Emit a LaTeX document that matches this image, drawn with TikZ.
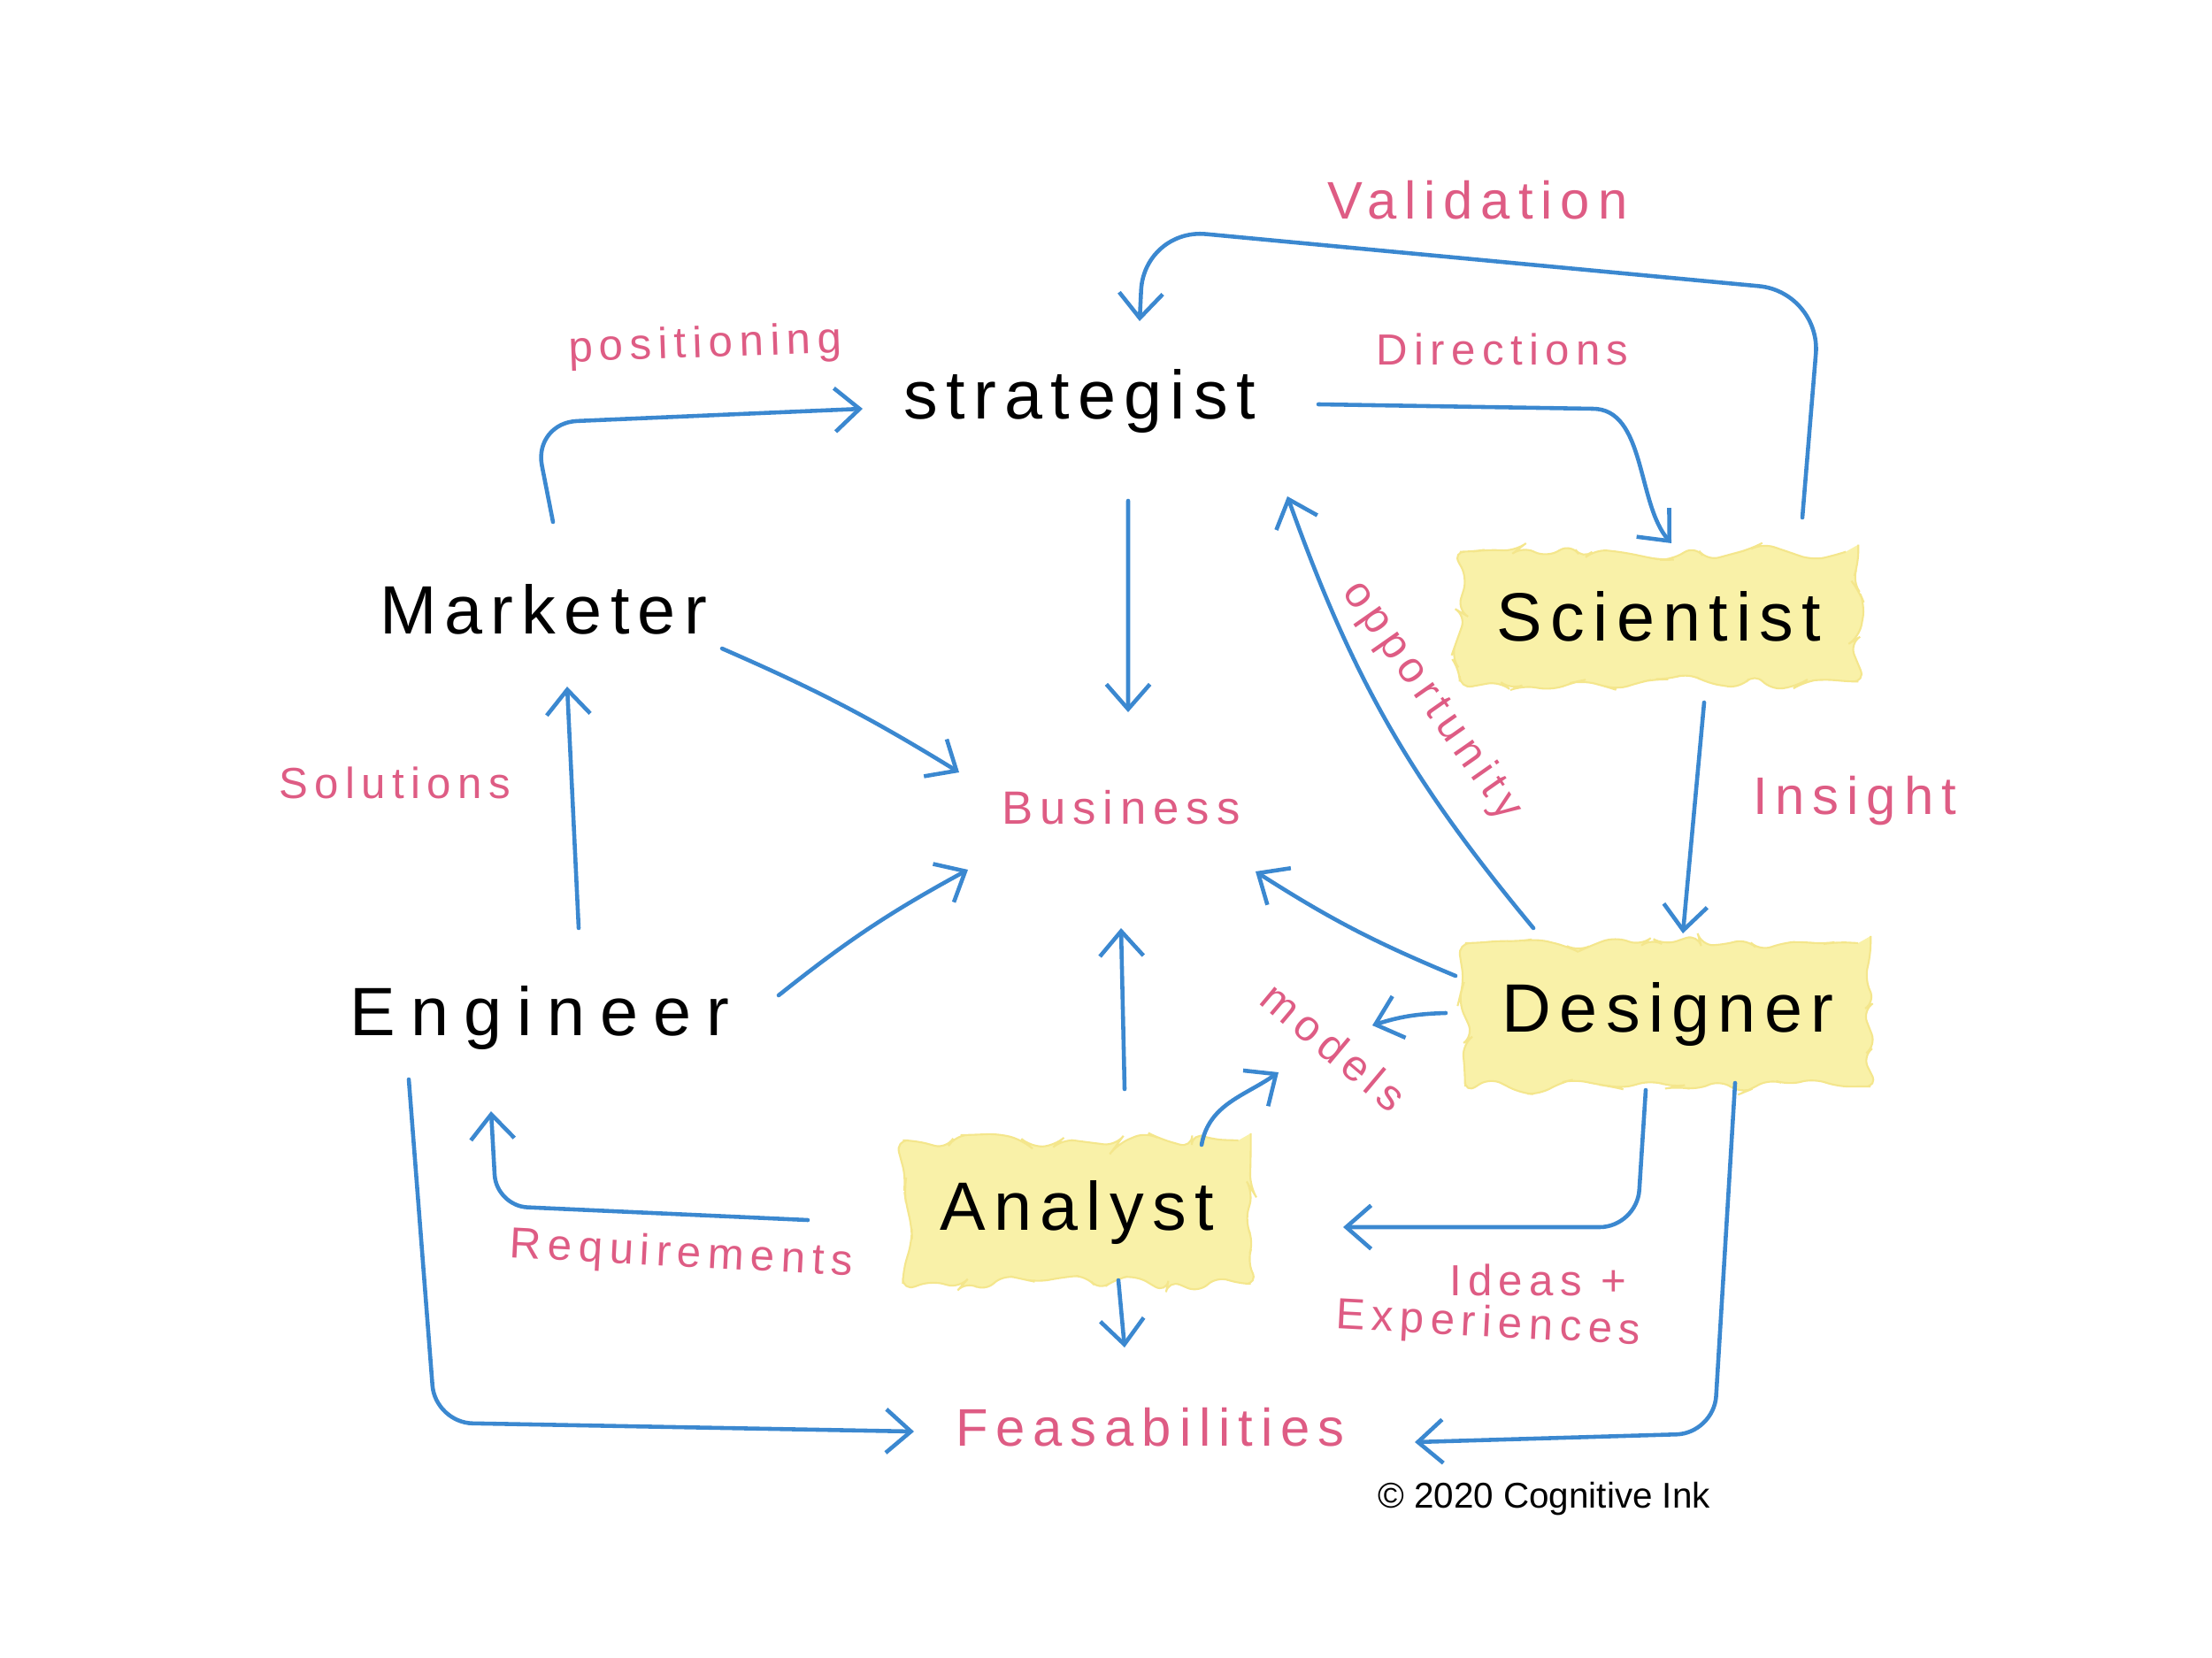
\documentclass[tikz,border=0pt]{standalone}
\usepackage{fontspec}
\usetikzlibrary{arrows.meta,decorations.pathmorphing,calc}
\newfontfamily\rolefont[LetterSpace=12]{Liberation Sans}
\newfontfamily\notefont[LetterSpace=15]{Liberation Sans}
\newfontfamily\inkfont{Liberation Sans}
\definecolor{inkblue}{RGB}{59,136,208}
\definecolor{notepink}{RGB}{222,92,132}
\definecolor{marker}{RGB}{249,241,168}
\definecolor{markeredge}{RGB}{244,230,140}

\begin{document}
\begin{tikzpicture}[
    role/.style={font=\rolefont\fontsize{22}{26}\selectfont, text=black},
    blob/.style={role, fill=marker, draw=markeredge, line width=0.6pt, decorate, decoration={random steps, segment length=6pt, amplitude=3pt}, rounded corners=4pt, inner xsep=0.42cm, inner ysep=0.45cm},
    note/.style={font=\notefont\fontsize{14}{17}\selectfont, text=notepink},
    bignote/.style={note, font=\notefont\fontsize{17}{20}\selectfont},
    link/.style={draw=inkblue, line width=1.3pt, line cap=round, line join=round, -{Straight Barb[length=8pt,width=14pt]}}]
    \pgfmathsetseed{12}
    \useasboundingbox (0,0) rectangle (25,-18.74);

    \node[role] (strategist) at (12.20,-4.54) {strategist};
    \node[role] (marketer) at (6.14,-6.89) {Marketer};
    \node[blob] (scientist) at (18.75,-6.97) {Scientist};
    \node[note, font=\notefont\fontsize{15}{18}\selectfont] (business) at (12.67,-9.13) {Business};
    \node[role, font=\rolefont\fontsize{22}{26}\selectfont\addfontfeature{LetterSpace=22}] (engineer) at (6.10,-11.51) {Engineer};
    \node[blob] (designer) at (18.85,-11.47) {Designer};
    \node[blob] (analyst) at (12.17,-13.70) {Analyst};
    \node[bignote] (feasab) at (13.00,-16.13) {Feasabilities};

    \node[note, rotate=2] (positioning) at (7.97,-3.91) {positioning};
    \node[bignote] (validation) at (16.70,-2.26) {Validation};
    \node[note] (directions) at (16.98,-3.95) {Directions};
    \node[note] (solutions) at (4.46,-8.85) {Solutions};
    \node[note, rotate=-55] (opportunity) at (16.18,-7.92) {opportunity};
    \node[bignote] (insight) at (20.96,-9.05) {Insight};
    \node[note, rotate=-40] (models) at (15.08,-11.83) {models};
    \node[note, rotate=-3] (requirements) at (7.70,-14.19) {Requirements};
    \node[note] (ideas) at (17.38,-14.47) {Ideas +};
    \node[note, rotate=-3] (experiences) at (16.82,-14.98) {Experiences};
    \node[font=\inkfont\fontsize{11.5}{14}\selectfont] (copyright) at (17.45,-16.94) {\textcopyright{} 2020 Cognitive Ink};

    \draw[link, rounded corners=14pt] ($(marketer)+(0.11,0.99)$) -- (6.03,-4.78) -- ($(strategist)+(-2.45,-0.08)$);
    \draw[link, rounded corners=20pt] ($(scientist)+(1.62,1.12)$) -- (20.58,-3.30) -- (12.93,-2.58) -- ($(strategist)+(0.68,0.91)$);
    \draw[link] ($(strategist)+(2.70,-0.03)$) -- (18.0,-4.62) .. controls (18.6,-4.62) and (18.5,-5.7) .. ($(scientist)+(0.14,0.83)$);
    \draw[link] ($(strategist)+(0.55,-1.12)$) -- ($(business)+(0.08,1.08)$);
    \draw[link] ($(marketer)+(2.02,-0.44)$) to[bend left=4] ($(business)+(-1.83,0.40)$);
    \draw[link] ($(engineer)+(0.44,1.02)$) -- ($(marketer)+(0.27,-0.87)$);
    \draw[link] ($(engineer)+(2.70,0.26)$) to[bend left=5] ($(business)+(-1.73,-0.70)$);
    \draw[link] ($(analyst)+(0.54,1.39)$) -- ($(business)+(0,-1.36)$);
    \draw[link] ($(designer)+(-2.40,0.44)$) to[bend left=5] ($(business)+(1.52,-0.72)$);
    \draw[link] ($(designer)+(-1.52,0.98)$) to[bend left=10] ($(strategist)+(2.35,-1.07)$);
    \draw[link] ($(scientist)+(0.51,-0.97)$) -- ($(designer)+(0.17,0.92)$);
    \draw[link] ($(designer)+(-2.51,0.02)$) to[bend right=8] ($(models)+(0.43,0.24)$);
    \draw[link] ($(analyst)+(1.41,0.76)$) to[out=80,in=-145] ($(models)+(-0.63,-0.29)$);
    \draw[link, rounded corners=12pt] ($(engineer)+(-1.48,-0.69)$) -- (4.92,-16.08) -- ($(feasab)+(-2.67,-0.05)$);
    \draw[link, rounded corners=10pt] ($(analyst)+(-3.04,-0.09)$) -- (5.61,-13.63) -- ($(engineer)+(-0.55,-1.05)$);
    \draw[link] ($(analyst)+(0.47,-0.77)$) -- ($(feasab)+(-0.29,0.90)$);
    \draw[link, rounded corners=12pt] ($(designer)+(-0.25,-0.85)$) -- (18.50,-13.87) -- ($(analyst)+(3.01,-0.17)$);
    \draw[link, rounded corners=12pt] ($(designer)+(0.76,-0.77)$) -- (19.37,-16.20) -- ($(feasab)+(2.99,-0.17)$);
\end{tikzpicture}
\end{document}
